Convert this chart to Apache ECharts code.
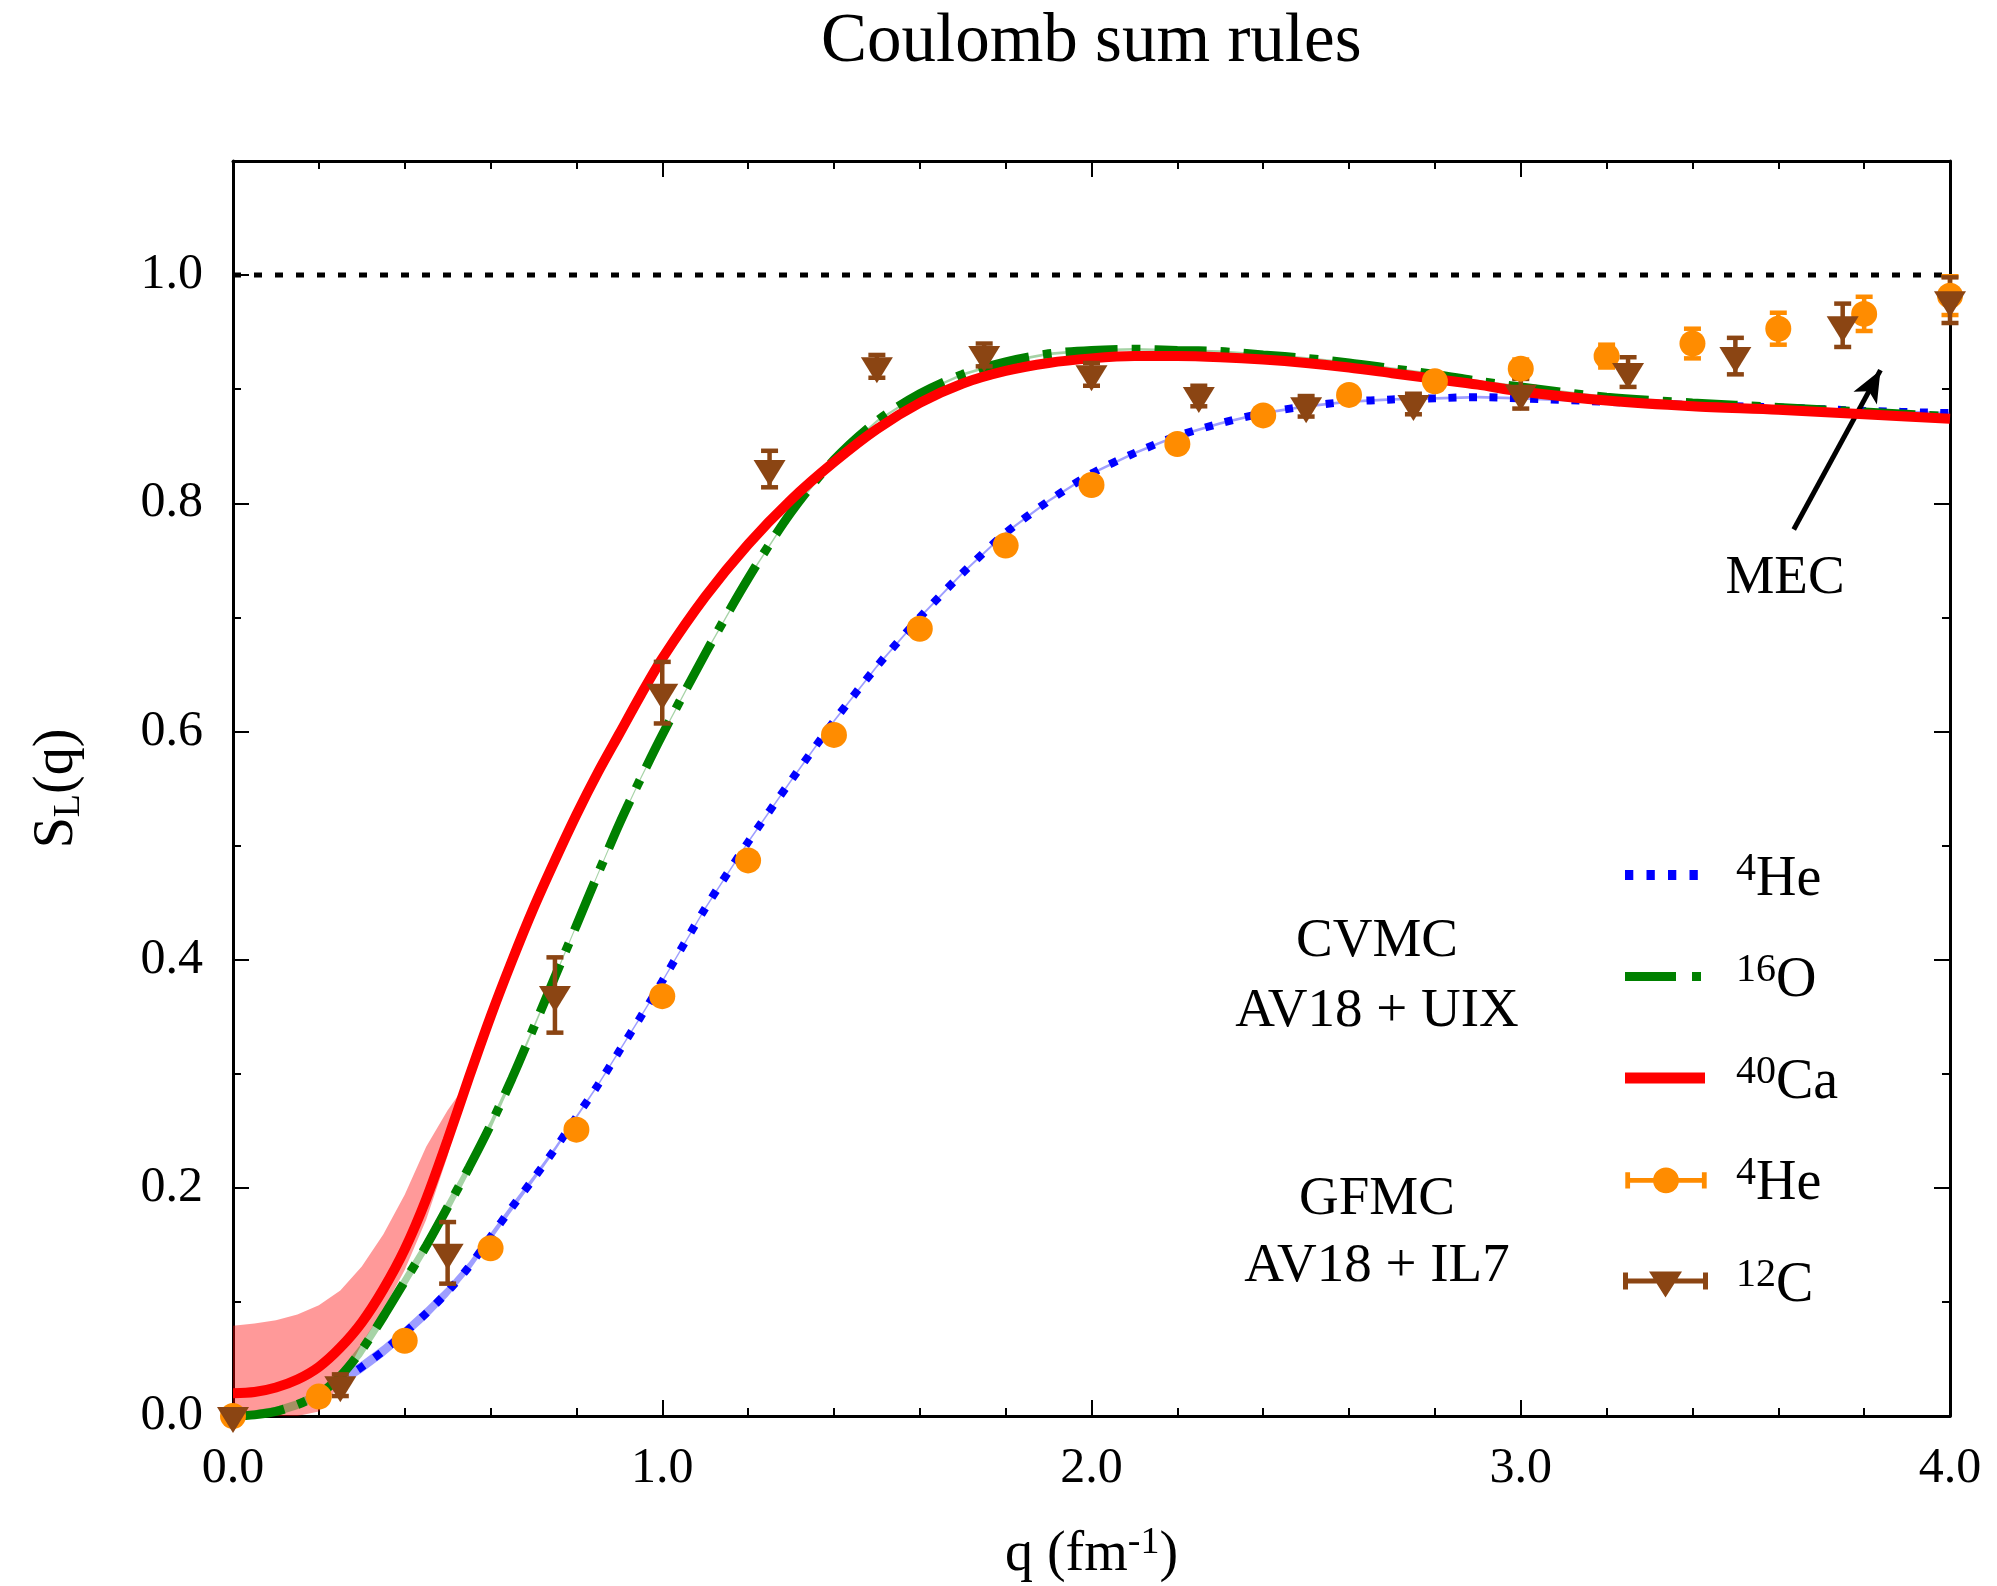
<!DOCTYPE html>
<html><head><meta charset="utf-8">
<script src="https://cdn.jsdelivr.net/npm/echarts@6/dist/echarts.min.js"></script>
<style>html,body{margin:0;padding:0;background:#fff}#c{width:1997px;height:1586px}</style>
</head><body><div id="c"></div>
<script>
// ---------- data ----------
const qGrid = [0,0.05,0.1,0.15,0.2,0.25,0.3,0.35,0.4,0.45,0.5,0.55,0.6,0.65,0.7,0.75,0.8,0.85,0.9,0.95,1.0,1.1,1.2,1.3,1.4,1.5,1.6,1.7,1.8,1.9,2.0,2.1,2.2,2.3,2.4,2.5,2.6,2.7,2.8,2.9,3.0,3.2,3.4,3.6,3.8,4.0];
const he4Cvmc = [null,null,null,null,null,0.031,0.043,0.057,0.073,0.090,0.109,0.131,0.157,0.183,0.208,0.234,0.262,0.290,0.320,0.350,0.381,0.445,0.503,0.557,0.609,0.657,0.700,0.739,0.774,0.802,0.826,0.844,0.859,0.870,0.879,0.885,0.889,0.891,0.892,0.893,0.892,0.889,0.886,0.884,0.881,0.879];
const he4Spread = [null,null,null,null,null,0.005,0.005,0.005,0.005,0.005,0.0045,0.004,0.0035,0.003,0.0025,0.002,0.0015,0.0012,0.0012,0.0012,0.0012,0.0012,0.0012,0.0012,0.0012,0.0012,0.0012,0.0012,0.0012,0.0012,0.0012,0.0012,0.0012,0.0012,0.0012,0.0012,0.0012,0.0012,0.0012,0.0012,0.0012,0.0012,0.0012,0.0012,0.0012,0.0012];
const o16Cvmc = [0.000,0.001,0.004,0.010,0.019,0.035,0.058,0.087,0.118,0.149,0.183,0.218,0.255,0.296,0.340,0.385,0.430,0.475,0.519,0.559,0.597,0.668,0.734,0.792,0.838,0.872,0.896,0.913,0.924,0.931,0.934,0.935,0.934,0.933,0.930,0.927,0.923,0.918,0.913,0.907,0.902,0.893,0.888,0.884,0.880,0.876];
const o16Spread = [0.003,0.004,0.004,0.004,0.004,0.005,0.006,0.006,0.006,0.006,0.006,0.005,0.004,0.003,0.002,0.0015,0.0012,0.0012,0.0012,0.0012,0.0012,0.0012,0.0012,0.0012,0.0012,0.0012,0.0012,0.0012,0.0012,0.0012,0.0012,0.0012,0.0012,0.0012,0.0012,0.0012,0.0012,0.0012,0.0012,0.0012,0.0012,0.0012,0.0012,0.0012,0.0012,0.0012];
const ca40Cvmc = [0.020,0.021,0.025,0.032,0.043,0.060,0.082,0.111,0.146,0.190,0.242,0.297,0.350,0.399,0.445,0.487,0.527,0.564,0.598,0.632,0.664,0.718,0.764,0.803,0.836,0.865,0.888,0.905,0.916,0.923,0.927,0.929,0.929,0.928,0.926,0.923,0.919,0.914,0.909,0.904,0.898,0.890,0.885,0.882,0.878,0.874];
const caBandQ  = [0,0.05,0.1,0.15,0.2,0.25,0.3,0.35,0.4,0.45,0.5,0.53];
const caBandLo = [0,0,0,0,0.004,0.028,0.063,0.093,0.128,0.172,0.228,0.268];
const caBandHi = [0.079,0.081,0.084,0.089,0.097,0.110,0.131,0.159,0.194,0.236,0.268,0.284];

const he4GfmcQ   = [0,0.2,0.4,0.6,0.8,1.0,1.2,1.4,1.6,1.8,2.0,2.2,2.4,2.6,2.8,3.0,3.2,3.4,3.6,3.8,4.0];
const he4GfmcV   = [0.000,0.017,0.066,0.147,0.251,0.368,0.487,0.597,0.690,0.763,0.816,0.852,0.877,0.895,0.907,0.918,0.929,0.940,0.953,0.966,0.982];
const he4GfmcErr = [0,0,0.002,0.003,0.003,0.004,0.004,0.004,0.004,0.005,0.005,0.005,0.005,0.006,0.007,0.008,0.010,0.013,0.014,0.015,0.017];
const c12GfmcQ   = [0,0.25,0.5,0.75,1.0,1.25,1.5,1.75,2.0,2.25,2.5,2.75,3.0,3.25,3.5,3.75,4.0];
const c12GfmcV   = [0.000,0.027,0.143,0.369,0.634,0.830,0.920,0.930,0.913,0.894,0.885,0.887,0.896,0.915,0.929,0.956,0.978];
const c12GfmcErr = [0,0.0095,0.027,0.033,0.027,0.016,0.010,0.010,0.010,0.009,0.009,0.009,0.013,0.013,0.016,0.019,0.020];

const sumRuleLimit = 1.0;
const yTicksMajor = [0,0.2,0.4,0.6,0.8,1.0];
const yTicksMinor = [0.1,0.3,0.5,0.7,0.9];
const mecArrow = [[3.636,0.777],[3.838,0.9167]];

// ---------- helpers ----------
const FONT = "'Liberation Serif','DejaVu Serif',serif";
const pairs = (qs, vs) => qs.map((q,i)=>[q, vs[i]]).filter(p => p[1] != null);

function bandSeries(name, qs, lo, hi, color, z) {
  const idx = qs.map((q,i)=>i).filter(i => lo[i] != null && hi[i] != null);
  return {
    type:'custom', name, silent:true, z, clip:true,
    data:[[qs[idx[0]], lo[idx[0]]]],
    renderItem:(params, api) => {
      const pts = [];
      idx.forEach(i => pts.push(api.coord([qs[i], hi[i]])));
      idx.slice().reverse().forEach(i => pts.push(api.coord([qs[i], lo[i]])));
      return {type:'polygon', shape:{points:pts}, style:{fill:color}};
    }
  };
}
function errSeries(name, qs, vs, es, color) {
  return {
    type:'custom', name, silent:true, z:6, clip:false,
    data: qs.map((q,i)=>[q, vs[i], es[i]]),
    encode:{x:0, y:1},
    renderItem:(params, api) => {
      const x = api.value(0), y = api.value(1), d = api.value(2);
      if (!(d > 0)) return null;
      const t = api.coord([x, y + d]), b = api.coord([x, y - d]);
      const hw = 8.5, st = {stroke:color, lineWidth:4.5, opacity:1};
      return {type:'group', children:[
        {type:'line', shape:{x1:t[0], y1:t[1], x2:b[0], y2:b[1]}, style:st},
        {type:'line', shape:{x1:t[0]-hw, y1:t[1], x2:t[0]+hw, y2:t[1]}, style:st},
        {type:'line', shape:{x1:b[0]-hw, y1:b[1], x2:b[0]+hw, y2:b[1]}, style:st}
      ]};
    }
  };
}
const heLo = he4Cvmc.map((v,i)=> v==null?null:v-he4Spread[i]);
const heHi = he4Cvmc.map((v,i)=> v==null?null:v+he4Spread[i]);
const oLo = o16Cvmc.map((v,i)=> Math.max(0, v-o16Spread[i]));
const oHi = o16Cvmc.map((v,i)=> v+o16Spread[i]);

// legend icons: drawn in a 108x34 box (corner markers fix the box), content centred at y=12
const BOX = 'M0,0L0,0.01M108,34L108,33.99';
const icons = {
  he: 'path://' + BOX + 'M2,7h8.3v10h-8.3zM23.5,7h8.3v10h-8.3zM45,7h8.3v10h-8.3zM66.5,7h8.3v10h-8.3z',
  o:  'path://' + BOX + 'M2,7.5H53V16.5H2ZM69,7.5H78V16.5H69Z',
  ca: 'path://' + BOX + 'M2,6.5H82V17.5H2Z',
  heG:'path://' + BOX + 'M0,9.5H85V14.5H0ZM0,3.5H5V20.5H0ZM80,3.5H85V20.5H80ZM29,12A13.5,13.5 0 1 1 56,12A13.5,13.5 0 1 1 29,12Z',
  cG: 'path://' + BOX + 'M0,9.5H85V14.5H0ZM0,3.5H5V20.5H0ZM80,3.5H85V20.5H80ZM26,2.5H59L42.5,28.5Z'
};
const legendLabels = {
  'He4_CVMC':'{sup|4}{b|He}', 'O16_CVMC':'{sup|16}{b|O}', 'Ca40_CVMC':'{sup|40}{b|Ca}',
  'He4_GFMC':'{sup|4}{b|He}', 'C12_GFMC':'{sup|12}{b|C}'
};

const axisLine = {show:true, onZero:false, lineStyle:{color:'#000', width:3}};
const tickStyle = {color:'#000', width:2};

const chart = echarts.init(document.getElementById('c'), null, {renderer:'canvas'});
chart.setOption({
  animation:false,
  backgroundColor:'#fff',
  title:{text:'Coulomb sum rules', left:821, top:8, padding:0,
    textStyle:{fontFamily:FONT, fontSize:69, fontWeight:'normal', color:'#000'}},
  grid:{left:233, right:47, top:161, bottom:170, containLabel:false, outerBoundsMode:'none'},
  legend:{
    orient:'vertical', left:1623, top:849, padding:0, itemGap:42.5, selectedMode:false,
    itemWidth:108, itemHeight:34, symbolKeepAspect:true,
    itemStyle:{borderWidth:0},
    formatter: n => legendLabels[n],
    textStyle:{fontFamily:FONT, color:'#000', fontSize:56,
      rich:{ b:{fontFamily:FONT, fontSize:56, lineHeight:62, color:'#000'},
             sup:{fontFamily:FONT, fontSize:40, lineHeight:22, verticalAlign:'top', color:'#000'} }},
    data:[
      {name:'He4_CVMC', icon:icons.he, itemStyle:{color:'#0000ff', borderWidth:0}},
      {name:'O16_CVMC', icon:icons.o, itemStyle:{color:'#008000', borderWidth:0}},
      {name:'Ca40_CVMC', icon:icons.ca, itemStyle:{color:'#ff0000', borderWidth:0}},
      {name:'He4_GFMC', icon:icons.heG, itemStyle:{color:'#ff8c00', borderWidth:0, opacity:1}},
      {name:'C12_GFMC', icon:icons.cG, itemStyle:{color:'#8b4513', borderWidth:0, opacity:1}}
    ]
  },
  xAxis:[
    {type:'value', min:0, max:4, interval:1, position:'bottom',
     axisLine, splitLine:{show:false},
     axisTick:{show:true, inside:true, length:16, lineStyle:tickStyle},
     minorTick:{show:true, splitNumber:5, length:8, lineStyle:tickStyle},
     axisLabel:{fontFamily:FONT, fontSize:50, color:'#000', margin:28, formatter:v=>v.toFixed(1)},
     name:'{b|q (fm}{sup|-1}{b|)}', nameLocation:'middle', nameGap:108,
     nameTextStyle:{fontFamily:FONT, fontSize:56, color:'#000',
       rich:{b:{fontFamily:FONT, fontSize:56, lineHeight:62, color:'#000'},
             sup:{fontFamily:FONT, fontSize:38, lineHeight:24, verticalAlign:'top', color:'#000'}}}},
    {type:'value', min:0, max:4, interval:1, position:'top',
     axisLine, splitLine:{show:false}, axisLabel:{show:false},
     axisTick:{show:true, inside:true, length:16, lineStyle:tickStyle},
     minorTick:{show:true, splitNumber:5, length:8, lineStyle:tickStyle}}
  ],
  yAxis:[
    {type:'value', min:0, max:1.1, interval:0.2, position:'left',
     axisLine, splitLine:{show:false},
     axisTick:{show:true, inside:true, length:16, lineStyle:tickStyle, customValues:yTicksMajor},
     axisLabel:{fontFamily:FONT, fontSize:50, color:'#000', margin:30, customValues:yTicksMajor,
       formatter:v=>v.toFixed(1)},
     name:'{b|S}{sub|L}{b|(q)}', nameLocation:'middle', nameGap:145,
     nameTextStyle:{fontFamily:FONT, fontSize:56, color:'#000',
       rich:{b:{fontFamily:FONT, fontSize:56, lineHeight:62, color:'#000'},
             sub:{fontFamily:FONT, fontSize:38, lineHeight:30, verticalAlign:'bottom', color:'#000'}}}},
    {type:'value', min:0, max:1.1, interval:0.2, position:'left',
     axisLine:{show:false, onZero:false}, splitLine:{show:false}, axisLabel:{show:false},
     axisTick:{show:true, inside:true, length:8, lineStyle:tickStyle, customValues:yTicksMinor}},
    {type:'value', min:0, max:1.1, interval:0.2, position:'right',
     axisLine, splitLine:{show:false}, axisLabel:{show:false},
     axisTick:{show:true, inside:true, length:16, lineStyle:tickStyle, customValues:yTicksMajor}},
    {type:'value', min:0, max:1.1, interval:0.2, position:'right',
     axisLine:{show:false, onZero:false}, splitLine:{show:false}, axisLabel:{show:false},
     axisTick:{show:true, inside:true, length:8, lineStyle:tickStyle, customValues:yTicksMinor}}
  ],
  series:[
    bandSeries('Ca40_band', caBandQ, caBandLo, caBandHi, 'rgba(255,0,0,0.4)', 1),
    bandSeries('O16_band', qGrid, oLo, oHi, 'rgba(0,128,0,0.35)', 1),
    bandSeries('He4_band', qGrid, heLo, heHi, 'rgba(0,0,255,0.38)', 1),
    {type:'line', name:'limit', data:[[0,sumRuleLimit],[4,sumRuleLimit]], symbol:'none', z:2, silent:true,
     lineStyle:{color:'#000', width:5, type:[8,13]},
     markLine:{silent:true, symbol:['none','arrow'], symbolSize:[20,32], label:{show:false},
       lineStyle:{color:'#000', width:5, type:'solid'},
       data:[[{coord:mecArrow[0]},{coord:mecArrow[1]}]]}},
    {type:'line', name:'He4_CVMC', data:pairs(qGrid, he4Cvmc), symbol:'none', smooth:0.3, z:3,
     color:'#0000ff', lineStyle:{color:'#0000ff', width:8, type:[8,12.5]}},
    {type:'line', name:'O16_CVMC', data:pairs(qGrid, o16Cvmc), symbol:'none', smooth:0.3, z:4,
     color:'#008000', lineStyle:{color:'#008000', width:9, type:[52,14,9,14]}},
    {type:'line', name:'Ca40_CVMC', data:pairs(qGrid, ca40Cvmc), symbol:'none', smooth:0.3, z:5,
     color:'#ff0000', lineStyle:{color:'#ff0000', width:10}},
    errSeries('He4_GFMC_err', he4GfmcQ, he4GfmcV, he4GfmcErr, '#ff8c00'),
    errSeries('C12_GFMC_err', c12GfmcQ, c12GfmcV, c12GfmcErr, '#8b4513'),
    {type:'scatter', name:'He4_GFMC', data:pairs(he4GfmcQ, he4GfmcV), symbol:'circle', symbolSize:26,
     clip:false, z:7, itemStyle:{color:'#ff8c00', opacity:1}},
    {type:'scatter', name:'C12_GFMC', data:pairs(c12GfmcQ, c12GfmcV), symbol:'path://M0,0L34,0L17,28Z',
     symbolSize:[32,26], symbolOffset:[0,4], clip:false, z:7, itemStyle:{color:'#8b4513', opacity:1}}
  ],
  graphic:[
    {type:'text', x:1377, y:942, style:{text:'CVMC', fontFamily:FONT, fontSize:55, fill:'#000', align:'center', verticalAlign:'middle'}},
    {type:'text', x:1377, y:1012, style:{text:'AV18 + UIX', fontFamily:FONT, fontSize:55, fill:'#000', align:'center', verticalAlign:'middle'}},
    {type:'text', x:1377, y:1200, style:{text:'GFMC', fontFamily:FONT, fontSize:55, fill:'#000', align:'center', verticalAlign:'middle'}},
    {type:'text', x:1377, y:1267, style:{text:'AV18 + IL7', fontFamily:FONT, fontSize:55, fill:'#000', align:'center', verticalAlign:'middle'}},
    {type:'text', x:1785, y:579, style:{text:'MEC', fontFamily:FONT, fontSize:55, fill:'#000', align:'center', verticalAlign:'middle'}}
  ]
});
</script>
</body></html>
